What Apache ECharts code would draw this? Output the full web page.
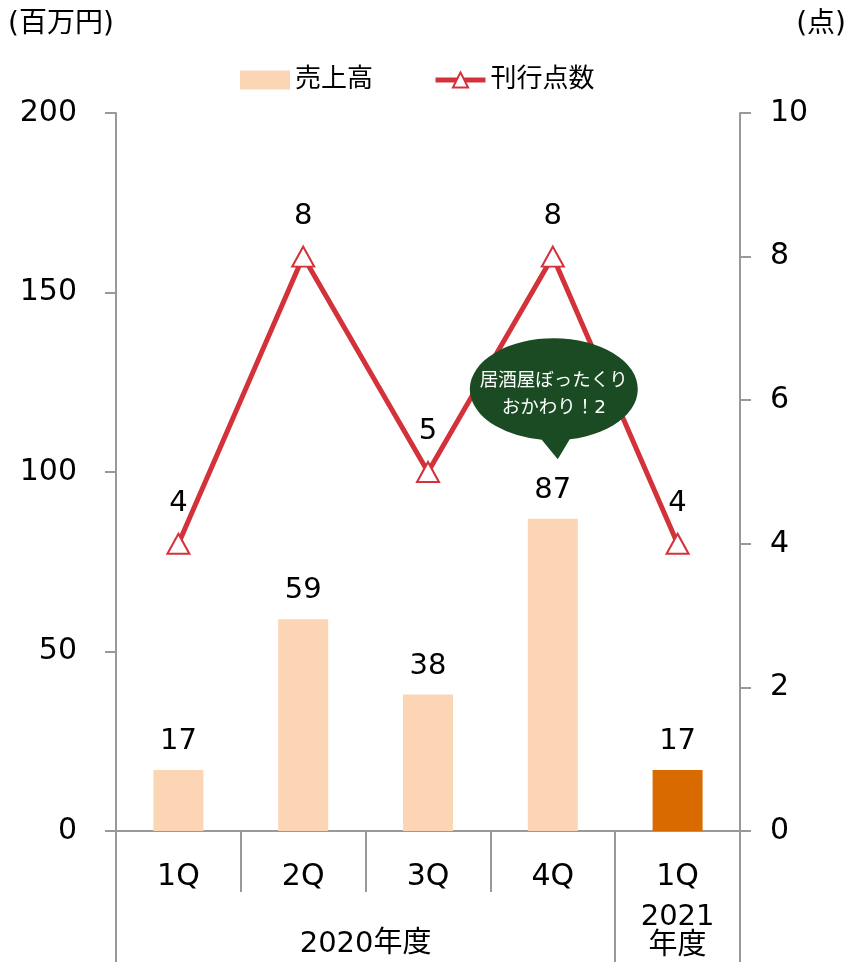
<!DOCTYPE html>
<html>
<head>
<meta charset="utf-8">
<script src="https://cdn.jsdelivr.net/npm/echarts@6/dist/echarts.min.js"></script>
<style>
  html, body { margin: 0; padding: 0; background: #fff; }
  #chart { width: 844px; height: 962px; }
</style>
</head>
<body>
<div id="chart"></div>
<script>
// data
var categories = ['1Q', '2Q', '3Q', '4Q', '1Q']
var salesValues = [17, 59, 38, 87, 17] // 売上高 (百万円)
var titleCounts = [4, 8, 5, 8, 4] // 刊行点数 (点)
var fiscalLabels = ['2020年度', '2021\n年度']
var fiscalLabelPos = [2, 4.5] // centre of each fiscal year span, in category units
var fiscalBounds = [0, 4, 5]
var bubbleText = '居酒屋ぼったくり\nおかわり！2'
var bubbleIndex = 3

var FONT = "'DejaVu Sans', 'Noto Sans CJK JP', sans-serif"
var AXIS = '#999999'
var RED = '#D3323A'
var PEACH = '#FCD5B5'

var chart = echarts.init(document.getElementById('chart'))

chart.setOption({
  animation: false,
  textStyle: { fontFamily: FONT, color: '#000' },
  graphic: [
    { type: 'text', left: 8, top: 11, style: { text: '(百万円)', font: '28px ' + FONT, fill: '#000' } },
    { type: 'text', right: -2, top: 11, style: { text: '(点)', font: '28px ' + FONT, fill: '#000' } }
  ],
  legend: {
    data: [
      { name: '売上高', icon: 'rect', itemStyle: { color: PEACH } },
      { name: '刊行点数', lineStyle: { width: 5, color: RED } }
    ],
    left: 235,
    top: 62,
    itemWidth: 50,
    itemHeight: 19,
    itemGap: 60,
    textStyle: { fontSize: 26, fontFamily: FONT, color: '#000' }
  },
  grid: {
    left: 116,
    right: 104,
    top: 113,
    bottom: 131
  },
  xAxis: [
    {
      type: 'category',
      data: categories,
      boundaryGap: true,
      axisLine: { lineStyle: { color: AXIS, width: 2 } },
      axisTick: { show: true, interval: 0, length: 61, lineStyle: { color: AXIS, width: 2 } },
      axisLabel: { interval: 0, margin: 31, fontSize: 30, color: '#000' }
    },
    {
      type: 'value',
      position: 'bottom',
      min: 0,
      max: categories.length,
      splitLine: { show: false },
      axisLine: { show: false },
      axisTick: { show: true, customValues: fiscalBounds, length: 131, lineStyle: { color: AXIS, width: 2 } },
      axisLabel: {
        customValues: fiscalLabelPos,
        margin: 72,
        fontSize: 29,
        lineHeight: 29,
        color: '#000',
        formatter: function (v) {
          var i = fiscalLabelPos.indexOf(v)
          if (i === 0) return '{p|' + fiscalLabels[0] + '}'
          return fiscalLabels[i]
        },
        rich: { p: { fontSize: 29, lineHeight: 29, padding: [54, 0, 0, 0] } }
      }
    }
  ],
  yAxis: [
    {
      type: 'value',
      min: 0,
      max: 200,
      interval: 50,
      splitLine: { show: false },
      axisLine: { show: true, lineStyle: { color: AXIS, width: 2 } },
      axisTick: { show: true, length: 11, lineStyle: { color: AXIS, width: 2 } },
      axisLabel: { margin: 39, fontSize: 30, color: '#000' }
    },
    {
      type: 'value',
      position: 'right',
      min: 0,
      max: 10,
      interval: 2,
      splitLine: { show: false },
      axisLine: { show: true, lineStyle: { color: AXIS, width: 2 } },
      axisTick: { show: true, length: 11, lineStyle: { color: AXIS, width: 2 } },
      axisLabel: { margin: 30, fontSize: 30, color: '#000' }
    }
  ],
  series: [
    {
      name: '売上高',
      type: 'bar',
      data: salesValues,
      barWidth: 50,
      itemStyle: {
        color: function (p) {
          return p.dataIndex === salesValues.length - 1 ? '#D96A00' : PEACH
        }
      },
      label: { show: true, position: 'top', distance: 14, fontSize: 29, color: '#000' },
      markPoint: {
        silent: true,
        symbol: 'path://M72,101.5 L88,121 L100,101.1 A84,51 0 1,0 72,101.5 Z',
        symbolSize: [168, 121],
        symbolKeepAspect: false,
        itemStyle: { color: '#1B4B22' },
        label: {
          show: true,
          position: 'inside',
          offset: [0, -4],
          fontSize: 18.5,
          lineHeight: 27,
          color: '#fff',
          fontFamily: FONT,
          formatter: bubbleText
        },
        data: [{ coord: [bubbleIndex, salesValues[bubbleIndex]], symbolOffset: [1, -120] }]
      }
    },
    {
      name: '刊行点数',
      type: 'line',
      yAxisIndex: 1,
      data: titleCounts,
      symbol: 'triangle',
      symbolSize: [22, 20],
      showAllSymbol: true,
      lineStyle: { color: RED, width: 5 },
      itemStyle: { color: '#fff', borderColor: RED, borderWidth: 2 },
      label: { show: true, position: 'top', distance: 15, fontSize: 29, color: '#000' },
      z: 3
    }
  ]
})
</script>
</body>
</html>
